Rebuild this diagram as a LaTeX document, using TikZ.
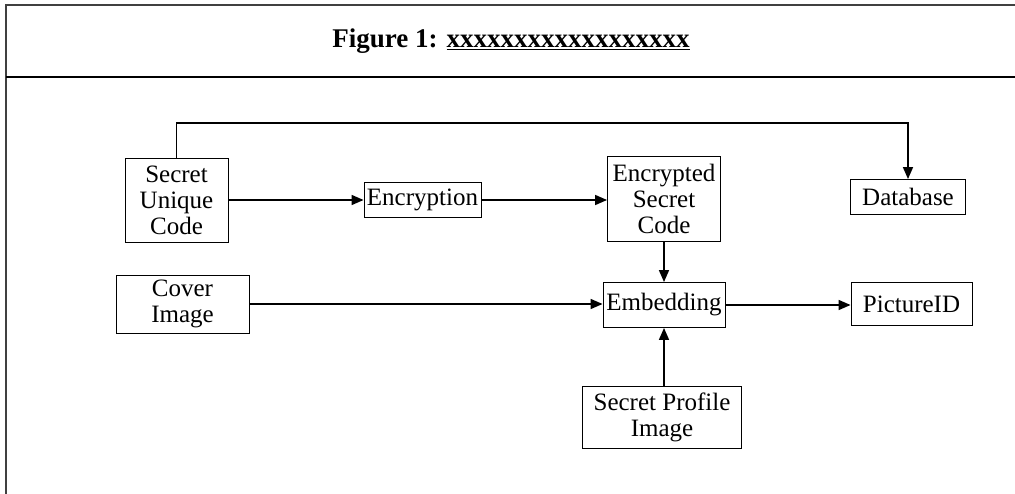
\documentclass[tikz,border=0pt]{standalone}
\usepackage{fontspec}
\setmainfont{Liberation Serif}
\usepackage{tikz}
\usetikzlibrary{positioning,arrows.meta}

\begin{document}
\begin{tikzpicture}[x=1pt,y=-1pt,
  box/.style={draw,line width=0.9pt,align=center,inner sep=0pt,
    font=\fontsize{25}{26}\selectfont},
  arr/.style={line width=1.6pt,-{Triangle[length=12pt,width=10pt]}}]
  \useasboundingbox (0,0) rectangle (1015,494);

  % Frame and title
  \draw[line width=1.2pt,black!75] (6,494) -- (6,5) -- (1015,5);
  \draw[line width=2.4pt] (6,77) -- (1015,77);
  \node (title) at (511,41) {\fontsize{27}{30}\selectfont\bfseries
    Figure 1: \underline{xxxxxxxxxxxxxxxxxx}};

  % Boxes
  \node[box,minimum width=103,minimum height=84] (suc) at (176.5,200) {Secret\\Unique\\Code};
  \node[box,minimum width=117,minimum height=35] (enc) at (422.5,200) {Encryption};
  \node[box,minimum width=113,minimum height=85] (esc) at (664,199) {Encrypted\\Secret\\Code};
  \node[box,minimum width=115,minimum height=35] (db) at (908,197) {Database};
  \node[box,minimum width=133,minimum height=58] (cover) at (182.5,304) {Cover\\Image};
  \node[box,minimum width=122,minimum height=45] (emb) at (664,305) {Embedding};
  \node[box,minimum width=121,minimum height=43] (pid) at (911.5,304) {PictureID};
  \node[box,minimum width=159,minimum height=62] (spi) at (662,417) {Secret Profile\\Image};

  % Connectors
  \coordinate (bend) at (176.5,123);
  \draw[arr] (suc.north) -- (bend) -| (db.north);
  \draw[arr] (suc) -- (enc);
  \draw[arr] (enc) -- (esc.west |- enc);
  \draw[arr] (esc) -- (emb);
  \draw[arr] (cover) -- (emb.west |- cover);
  \draw[arr] (spi.north -| emb) -- (emb);
  \draw[arr] (emb) -- (pid.west |- emb);
\end{tikzpicture}
\end{document}
